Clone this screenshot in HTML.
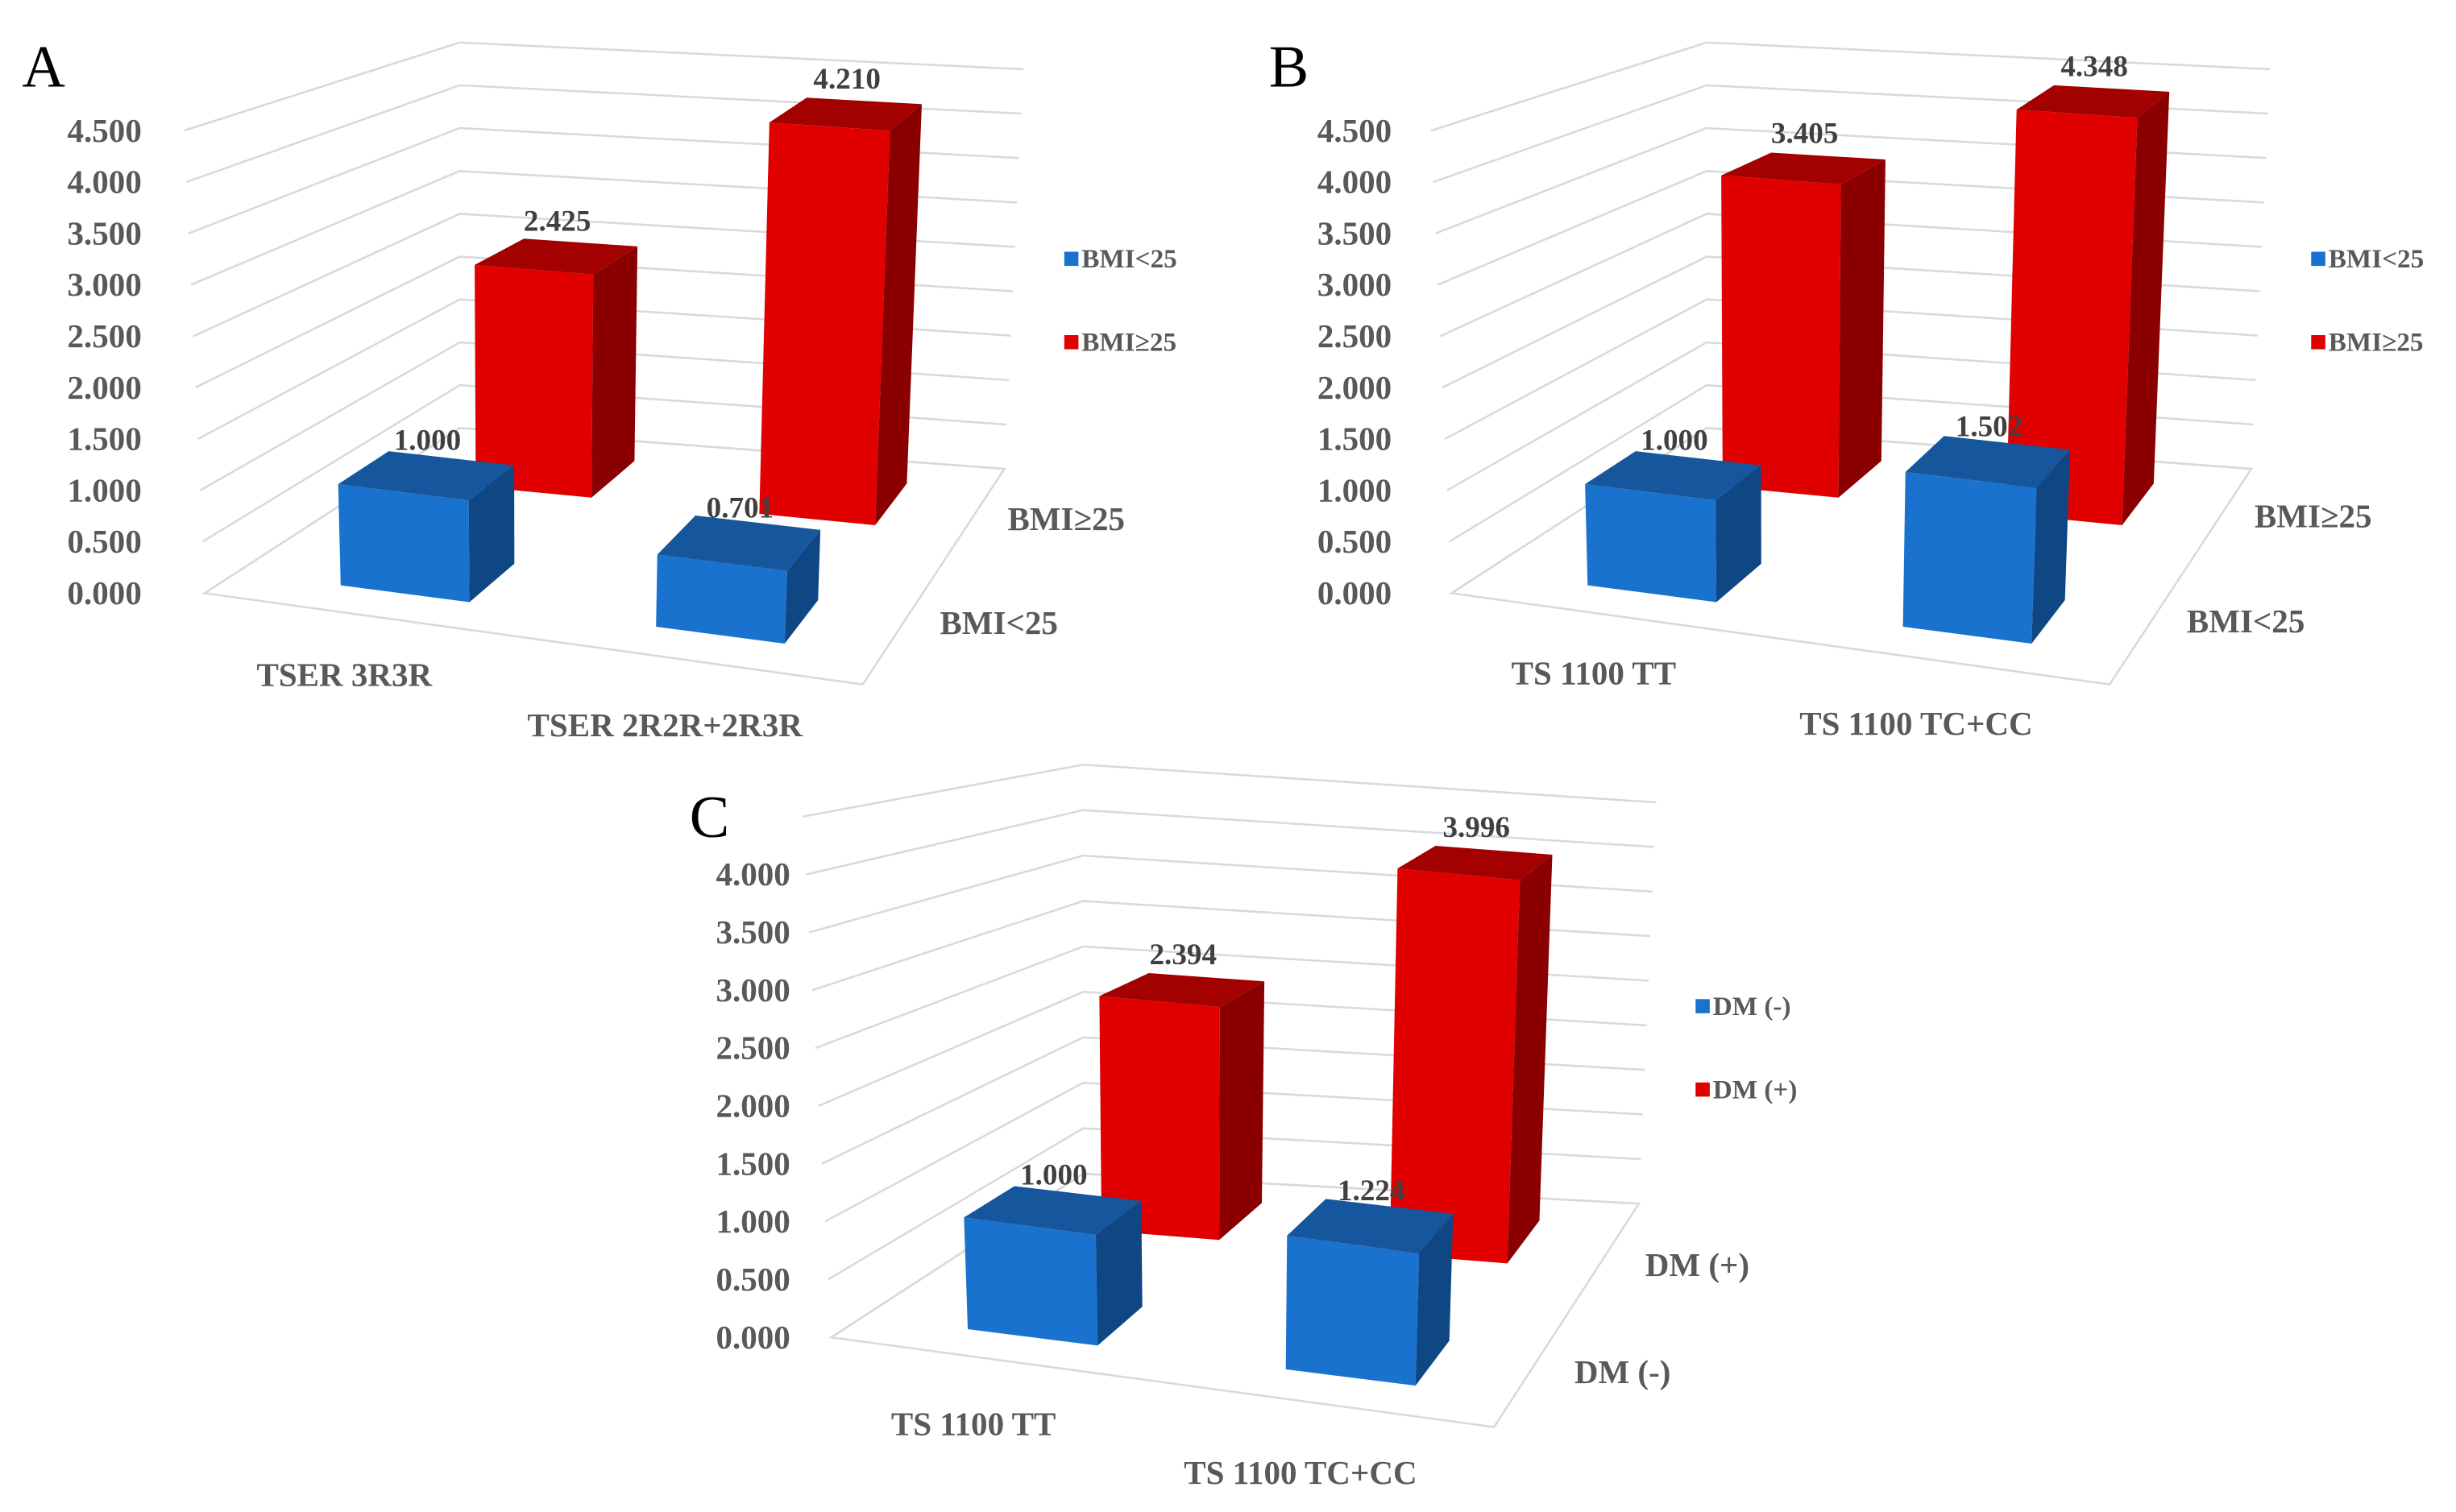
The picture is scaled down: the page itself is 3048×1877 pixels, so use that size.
<!DOCTYPE html>
<html><head><meta charset="utf-8"><style>
html,body{margin:0;padding:0;background:#fff;}
svg{display:block;}
text{font-family:"Liberation Serif",serif;}
</style></head><body>
<svg id="chart" width="3048" height="1877" viewBox="0 0 1560 961" preserveAspectRatio="none" xmlns="http://www.w3.org/2000/svg">
<rect width="1560" height="961" fill="#fff"/>
</svg>
<script>
// ---- data ----
const catsA = ["TSER 3R3R", "TSER 2R2R+2R3R"];
const seriesA = ["BMI<25", "BMI\u226525"];
const blueA = [1.000, 0.701];
const redA = [2.425, 4.210];
const catsB = ["TS 1100 TT", "TS 1100 TC+CC"];
const seriesB = ["BMI<25", "BMI\u226525"];
const blueB = [1.000, 1.502];
const redB = [3.405, 4.348];
const catsC = ["TS 1100 TT", "TS 1100 TC+CC"];
const seriesC = ["DM (-)", "DM (+)"];
const blueC = [1.000, 1.224];
const redC = [2.394, 3.996];
const ticksAB = [0, 0.5, 1, 1.5, 2, 2.5, 3, 3.5, 4, 4.5];
const ticksC = [0, 0.5, 1, 1.5, 2, 2.5, 3, 3.5, 4];

const svg = document.getElementById('chart');
const NS = "http://www.w3.org/2000/svg";
function mk(tag, attrs, parent){
  const e = document.createElementNS(NS, tag);
  for (const k in attrs) e.setAttribute(k, attrs[k]);
  (parent||svg).appendChild(e);
  return e;
}
function shift(p, dx){ return [p[0]+dx, p[1]]; }
const geoA = {FL0:[130,377],FLt:[117,83],FR0:[548,435],FRt:[562,130],BL0:[292,272],BLt:[292,27],BR0:[638,298],BRt:[650,44],vmax:4.5};
const geoB = {}; for (const k in geoA) geoB[k] = k==='vmax'?4.5:shift(geoA[k],792);
const geoC = {FL0:[528,850],FLt:[510,519],FR0:[949,907],FRt:[962,592],BL0:[688,746],BLt:[688,486],BR0:[1041,765],BRt:[1052,510],vmax:4.5};

function bil(a,b,c,d,u,w){
  const f=[a[0]+(b[0]-a[0])*u, a[1]+(b[1]-a[1])*u];
  const k=[c[0]+(d[0]-c[0])*u, c[1]+(d[1]-c[1])*u];
  return [f[0]+(k[0]-f[0])*w, f[1]+(k[1]-f[1])*w];
}
function P(g,u,w,v){
  const F=bil(g.FL0,g.FR0,g.BL0,g.BR0,u,w);
  const T=bil(g.FLt,g.FRt,g.BLt,g.BRt,u,w);
  const t=v/g.vmax;
  return [F[0]+(T[0]-F[0])*t, F[1]+(T[1]-F[1])*t];
}
function pts(arr){ return arr.map(p=>p[0].toFixed(1)+','+p[1].toFixed(1)).join(' '); }

function panel(name, g, cats, series, blue, red, ticks, letter, letterPos, labelX, legendPos, depthLabelPos, catLabelPos){
  const grp = mk('g', {});
  
  
  const grid = mk('g', {}, grp);
  
  
  for (let i=0;i<=9;i++){
    const v=i*0.5;
    const a=P(g,0,0,v), b=P(g,0,1,v), c=P(g,1,1,v);
    const l=mk('polyline',{points:pts([a,b,c]),fill:'none',stroke:'#d9d9d9','stroke-width':1.3},grid);
    
    
  }
  const floor=mk('polygon',{points:pts([P(g,0,0,0),P(g,1,0,0),P(g,1,1,0),P(g,0,1,0)]),fill:'none',stroke:'#d9d9d9','stroke-width':1.3},grp);
  
  
  ticks.forEach(v=>{
    const p=P(g,0,0,v);
    const t=mk('text',{x:labelX,y:p[1]+7,'text-anchor':'end','font-size':21,'font-weight':'bold',fill:'#595959'},grp);
    t.textContent=v.toFixed(3);
    
    
  });
  const U=[[0.16,0.36],[0.65,0.85]];
  const rows=[{vals:red,w:[0.70,0.90],c:['#e00000','#a30000','#8a0000']},{vals:blue,w:[0.13,0.34],c:['#1a72cf','#15569c','#0e4784']}];
  rows.forEach((r,ri)=>{
    r.vals.forEach((val,ci)=>{
      const [u0,u1]=U[ci],[w0,w1]=r.w;
      const bg=mk('g',{},grp);
      
      
      mk('polygon',{points:pts([P(g,u0,w0,0),P(g,u1,w0,0),P(g,u1,w0,val),P(g,u0,w0,val)]),fill:r.c[0]},bg);
      mk('polygon',{points:pts([P(g,u1,w0,0),P(g,u1,w1,0),P(g,u1,w1,val),P(g,u1,w0,val)]),fill:r.c[2]},bg);
      mk('polygon',{points:pts([P(g,u0,w0,val),P(g,u1,w0,val),P(g,u1,w1,val),P(g,u0,w1,val)]),fill:r.c[1]},bg);
      const tc=P(g,(u0+u1)/2,(w0+w1)/2,val);
      const t=mk('text',{x:tc[0],y:tc[1]-16,'text-anchor':'middle','font-size':19,'font-weight':'bold',fill:'#404040'},grp);
      t.textContent=val.toFixed(3);
      
      
    });
  });
  const L=mk('text',{x:letterPos[0],y:letterPos[1],'font-size':38,fill:'#000'},grp);
  L.textContent=letter;
  
  
  const cols=['#1a72cf','#e00000'];
  series.forEach((s,i)=>{
    const y=legendPos[1]+i*53;
    const lg=mk('g',{},grp);
    
    
    mk('rect',{x:legendPos[0],y:y-10,width:9,height:9,fill:cols[i]},lg);
    const t=mk('text',{x:legendPos[0]+11,y:y,'font-size':17,'font-weight':'bold',fill:'#595959'},lg);
    t.textContent=s;
  });
  series.forEach((s,i)=>{
    const p=depthLabelPos[1-i];
    const t=mk('text',{x:p[0],y:p[1],'font-size':21,'font-weight':'bold',fill:'#595959'},grp);
    t.textContent=s;
    
    
  });
  cats.forEach((c,i)=>{
    const p=catLabelPos[i];
    const t=mk('text',{x:p[0],y:p[1],'font-size':21,'font-weight':'bold',fill:'#595959'},grp);
    t.textContent=c;
    
    
  });
}
panel('a',geoA,catsA,seriesA,blueA,redA,ticksAB,'A',[14,55],90,[676,170],[[640,337],[597,403]],[[163,436],[335,468]]);
panel('b',geoB,catsB,seriesB,blueB,redB,ticksAB,'B',[806,55],884,[1468,170],[[1432,335],[1389,402]],[[960,435],[1143,467]]);
panel('c',geoC,catsC,seriesC,blueC,redC,ticksC,'C',[438,532],502,[1077,645],[[1045,811],[1000,879]],[[566,912],[752,943]]);
</script>
</body></html>
